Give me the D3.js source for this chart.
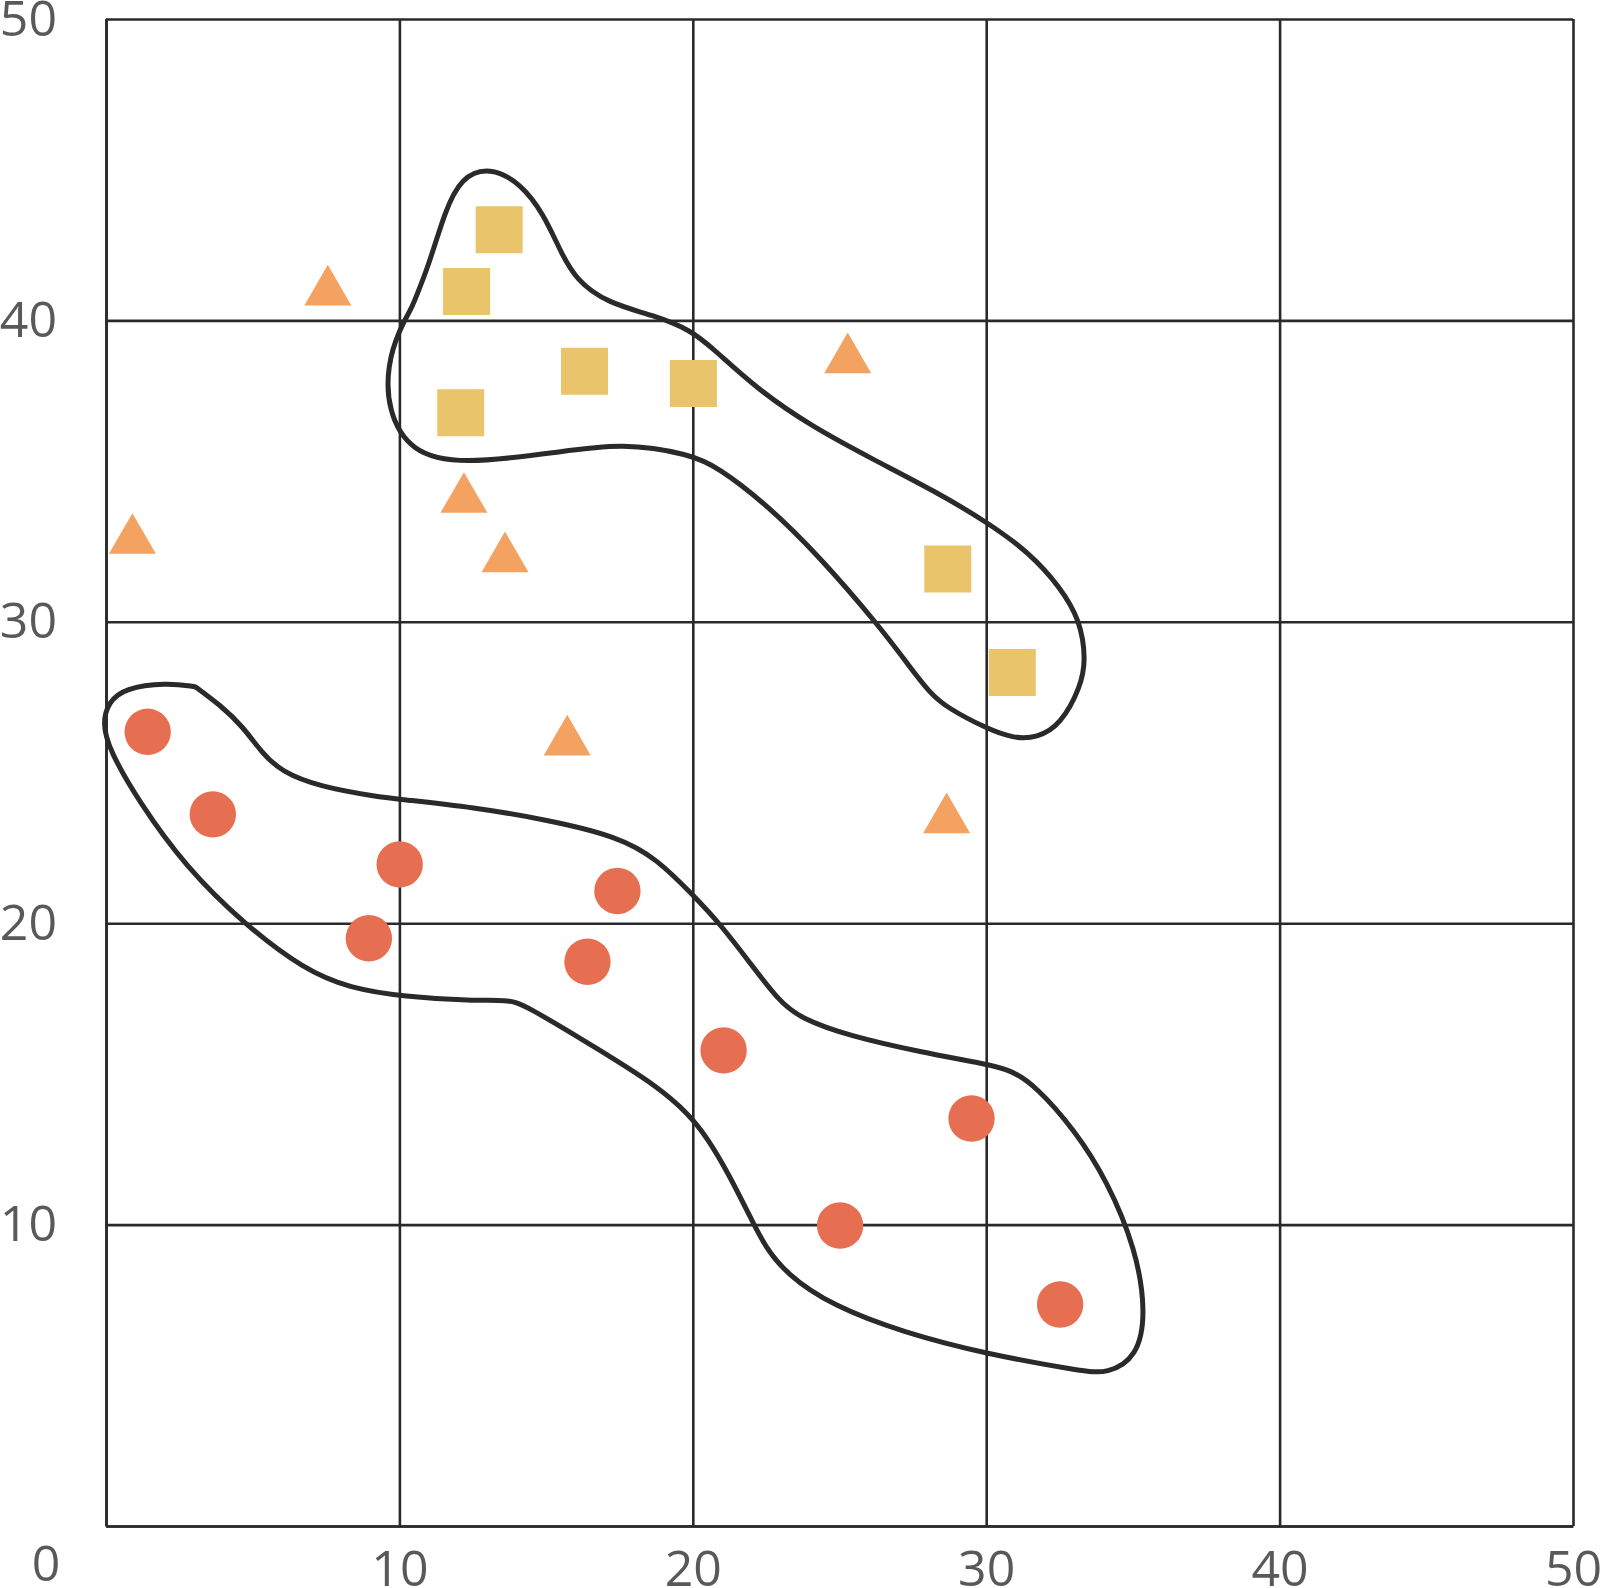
<!DOCTYPE html>
<html lang="en">
  <head>
    <meta charset="UTF-8" />
    <title>Grouped scatter</title>
    <style>
      body { margin: 0; background: #fff; }
      .grid line, .grid path { stroke: #2a2a2a; stroke-width: 2.6px; }
      .grid text { font-family: "Open Sans", sans-serif; font-size: 50px; fill: #595959; }
      .outline { fill: none; stroke: #2a2a28; stroke-width: 5px; stroke-linejoin: round; }
    </style>
  </head>
  <body>
    <script src="https://cdn.jsdelivr.net/npm/d3@7"></script>
    <script>
    // tick values shared by both axes
    var ticks = [0, 10, 20, 30, 40, 50];

    // points, [x, y] in data units
    var circles = [
      [1.42, 26.35], [3.64, 23.61], [10.01, 21.95], [8.96, 19.50], [17.43, 21.07],
      [16.41, 18.72], [21.05, 15.78], [29.50, 13.52], [25.02, 9.97], [32.52, 7.35]
    ];
    var squares = [
      [13.40, 43.01], [12.29, 40.96], [16.31, 38.31], [20.02, 37.91],
      [12.09, 36.94], [28.69, 31.75], [30.89, 28.32]
    ];
    var triangles = [
      [7.56, 41.17], [25.28, 38.92], [0.90, 32.93], [12.20, 34.29],
      [13.60, 32.32], [15.72, 26.24], [28.65, 23.66]
    ];

    // hand drawn group outlines (repeated points = sharp kinks)
    var upperOutline = [
      [13.08, 45.10], [14.13, 44.55], [14.92, 43.52], [15.46, 42.35], [16.01, 41.34],
      [17.11, 40.57], [18.67, 40.17], [19.93, 39.68], [20.71, 39.05], [22.12, 37.78],
      [23.99, 36.51], [26.18, 35.37], [28.22, 34.35], [30.03, 33.31], [31.49, 32.28],
      [32.52, 31.15], [33.20, 30.06], [33.40, 28.73], [33.22, 27.84], [32.55, 26.60],
      [31.73, 26.14], [30.91, 26.14], [30.03, 26.45], [28.66, 27.15], [28.08, 27.64],
      [27.40, 28.50], [26.38, 29.83], [24.30, 32.19], [22.43, 33.97], [20.86, 35.12],
      [19.93, 35.56], [17.58, 35.94], [15.39, 35.62], [12.10, 35.22], [10.38, 35.62],
      [9.59, 37.02], [9.59, 38.54], [9.99, 39.68], [10.43, 40.45], [10.43, 40.45],
      [11.01, 41.84], [11.55, 43.62], [12.10, 44.75]
    ];
    var lowerOutline = [
      [3.04, 27.85], [3.04, 27.85], [3.89, 27.24], [4.67, 26.52], [5.32, 25.64], [5.98, 25.03],
      [7.28, 24.53], [9.24, 24.20], [10.02, 24.11], [12.50, 23.85], [15.11, 23.42],
      [17.45, 22.87], [18.76, 22.15], [20.00, 20.94], [20.97, 19.93], [21.95, 18.68],
      [22.92, 17.44], [23.65, 16.85], [25.36, 16.25], [27.79, 15.72], [29.98, 15.33],
      [30.84, 15.13], [31.69, 14.60], [33.03, 13.12], [34.12, 11.46], [35.10, 9.20],
      [35.45, 7.07], [35.15, 5.60], [34.12, 5.05], [33.27, 5.14], [29.98, 5.71],
      [27.18, 6.42], [24.75, 7.31], [23.17, 8.37], [22.44, 9.32], [22.07, 10.03],
      [21.22, 11.69], [20.49, 12.88], [19.88, 13.65], [18.78, 14.60], [16.84, 15.78],
      [14.20, 17.34], [13.67, 17.45], [12.50, 17.43], [10.15, 17.56], [8.32, 17.84],
      [6.76, 18.45], [4.67, 20.00], [2.72, 21.87], [1.15, 23.98], [0.11, 25.75],
      [-0.12, 26.63], [0.08, 27.33], [0.63, 27.80], [2.06, 27.98]
    ];

    var margin = { top: 19, right: 27, bottom: 62, left: 106 };
    var W = 1600, H = 1588;
    var w = W - margin.left - margin.right,
        h = H - margin.top - margin.bottom;

    var svg = d3.select("body").append("svg")
      .attr("width", W)
      .attr("height", H);
    var g = svg.append("g")
      .attr("transform", "translate(" + margin.left + "," + margin.top + ")");

    var xScale = d3.scaleLinear().domain([0, 50]).range([0, w]);
    var yScale = d3.scaleLinear().domain([0, 50]).range([h, 0]);

    var hideZero = function(d) { return d === 0 ? "" : d; };

//grid + labels
    g.append("g")
      .attr("class", "grid")
      .call(d3.axisLeft(yScale)
        .tickValues(ticks)
        .tickFormat(hideZero)
        .tickSizeInner(-w)
        .tickSizeOuter(0)
        .tickPadding(49));
    g.append("g")
      .attr("class", "grid")
      .attr("transform", "translate(0," + h + ")")
      .call(d3.axisBottom(xScale)
        .tickValues(ticks)
        .tickFormat(hideZero)
        .tickSizeInner(-h)
        .tickSizeOuter(0)
        .tickPadding(24));
    g.selectAll(".grid text").attr("fill", null);
    g.selectAll(".grid .domain").attr("stroke", null);
    g.selectAll(".grid line").attr("stroke", null);

//shared origin label
    g.append("text")
      .attr("class", "origin")
      .attr("x", -60)
      .attr("y", h + 19)
      .attr("dy", "0.71em")
      .attr("text-anchor", "middle")
      .style("font-family", "'Open Sans', sans-serif")
      .style("font-size", "50px")
      .style("fill", "#595959")
      .text("0");

//outlines
    var outline = d3.line()
      .x(function(d) { return xScale(d[0]); })
      .y(function(d) { return yScale(d[1]); })
      .curve(d3.curveBasisClosed);
    g.selectAll(".outline")
      .data([upperOutline, lowerOutline])
      .enter().append("path")
      .attr("class", "outline")
      .attr("d", outline);

//markers
    g.selectAll(".sq")
      .data(squares)
      .enter().append("path")
      .attr("class", "sq")
      .attr("fill", "#E9C46A")
      .attr("transform", function(d) { return "translate(" + xScale(d[0]) + "," + yScale(d[1]) + ")"; })
      .attr("d", d3.symbol(d3.symbolSquare, 47 * 47));

    var triSide = 47;
    var triH = triSide * Math.sqrt(3) / 2;
    g.selectAll(".tri")
      .data(triangles)
      .enter().append("path")
      .attr("class", "tri")
      .attr("fill", "#F4A261")
      .attr("transform", function(d) { return "translate(" + xScale(d[0]) + "," + (yScale(d[1]) + triH / 6) + ")"; })
      .attr("d", d3.symbol(d3.symbolTriangle, triSide * triSide * Math.sqrt(3) / 4));

    g.selectAll(".dot")
      .data(circles)
      .enter().append("circle")
      .attr("class", "dot")
      .attr("fill", "#E76F51")
      .attr("cx", function(d) { return xScale(d[0]); })
      .attr("cy", function(d) { return yScale(d[1]); })
      .attr("r", 23.2);
    </script>
  </body>
</html>
